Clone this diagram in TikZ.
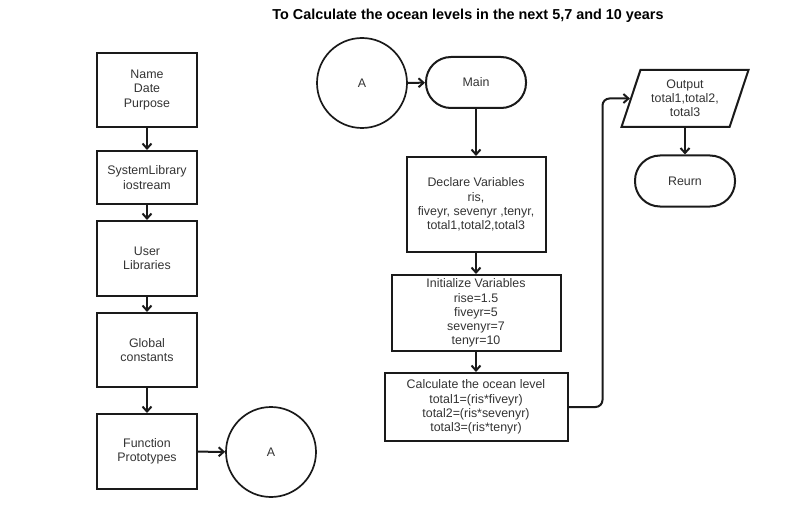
\documentclass[tikz,border=0pt]{standalone}
\usepackage{fontspec}
\setmainfont{Liberation Sans}
\usetikzlibrary{arrows.meta,shapes.geometric}
\definecolor{linea}{HTML}{1A1A1A}
\definecolor{testo}{HTML}{333333}

\begin{document}
\begin{tikzpicture}[x=1pt, y=-1pt, %%Layout oceano
  every node/.style={text=testo, font=\fontsize{12.4}{14.2}\selectfont, align=center},
  blocco/.style={draw=linea, line width=2pt, rectangle, inner sep=0pt},
  terminale/.style={draw=linea, line width=2pt, rectangle, rounded corners=25pt, minimum width=100pt, minimum height=51pt},
  cerchio/.style={draw=linea, line width=1.7pt, circle, minimum size=90pt, inner sep=0pt},
  uscita/.style={draw=linea, line width=2pt, trapezium, trapezium left angle=63, trapezium right angle=117, trapezium stretches body, minimum width=127pt, minimum height=57pt, inner sep=0pt},
  freccia/.style={draw=linea, line width=2pt, -{Straight Barb[length=5pt,width=9pt]}}]

\useasboundingbox (0,0) rectangle (795,516);

\node[text=black, font=\bfseries\fontsize{14.4}{16}\selectfont] (titolo) at (468,16) {To Calculate the ocean levels in the next 5,7 and 10 years};

%colonna sinistra
\node[blocco, minimum width=100pt, minimum height=74pt] (nome) at (147,90) {Name\\Date\\Purpose};
\node[blocco, minimum width=100pt, minimum height=53pt] (syslib) at (147,177.5) {SystemLibrary\\iostream};
\node[blocco, minimum width=100pt, minimum height=75pt] (userlib) at (147,258.5) {User\\Libraries};
\node[blocco, minimum width=100pt, minimum height=74pt] (globconst) at (147,350) {Global\\constants};
\node[blocco, minimum width=100pt, minimum height=75pt] (funcproto) at (147,451.5) {Function\\Prototypes};
\node[cerchio] (connA) at (271,452) {A};

%colonna centrale
\node[cerchio] (startA) at (362,83) {A};
\node[terminale] (main) at (476,82.5) {Main};
\node[blocco, minimum width=139pt, minimum height=95pt] (declare) at (476,204.5) {Declare Variables\\ris,\\fiveyr, sevenyr ,tenyr,\\total1,total2,total3};
\node[blocco, minimum width=169pt, minimum height=76pt] (init) at (476,313) {Initialize Variables\\rise=1.5\\fiveyr=5\\sevenyr=7\\tenyr=10};
\node[blocco, minimum width=183pt, minimum height=68pt] (calc) at (476,407) {Calculate the ocean level\\total1=(ris*fiveyr)\\total2=(ris*sevenyr)\\total3=(ris*tenyr)};

%colonna destra
\node[uscita] (output) at (685,98.5) {Output\\total1,total2,\\total3};
\node[terminale] (reurn) at (685,181) {Reurn};

\draw[freccia] (nome) -- (syslib); %freccia
\draw[freccia] (syslib) -- (userlib); %freccia
\draw[freccia] (userlib) -- (globconst); %freccia
\draw[freccia] (globconst) -- (funcproto); %freccia
\draw[freccia] (funcproto) -- (connA); %freccia

\draw[freccia] (startA) -- (main); %freccia
\draw[freccia] (main) -- (declare); %freccia
\draw[freccia] (declare) -- (init); %freccia
\draw[freccia] (init) -- (calc); %freccia
\draw[freccia, rounded corners=7pt] (calc.east) -- ++(34,0) |- (output.west); %freccia
\draw[freccia] (output) -- (reurn); %freccia

\end{tikzpicture}
\end{document}
